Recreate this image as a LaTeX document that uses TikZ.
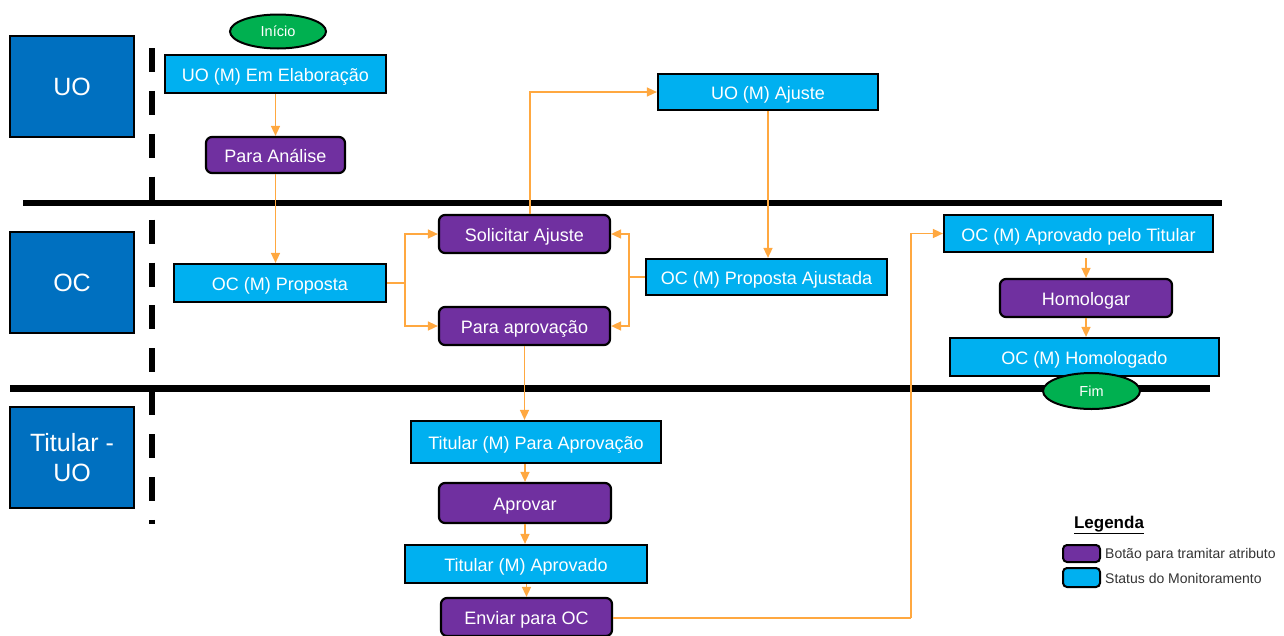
\documentclass[tikz,border=0pt]{standalone}
\usepackage{fontspec}
\setmainfont{Liberation Sans}
\usetikzlibrary{shapes.geometric,arrows.meta}
\definecolor{cyanbox}{HTML}{00B0F0}
\definecolor{purplebox}{HTML}{7030A0}
\definecolor{lanebox}{HTML}{0070C0}
\definecolor{greenov}{HTML}{00B050}
\definecolor{flow}{RGB}{255,168,64}
\definecolor{legtext}{HTML}{333333}
\begin{document}
\begin{tikzpicture}[x=1pt,y=-1pt,
  boxtext/.style={text=white, font=\fontsize{18}{21}\selectfont, inner sep=0pt,
    text height=15pt, text depth=0pt},
  status/.style={boxtext, draw=black, line width=2.2pt, fill=cyanbox},
  button/.style={boxtext, draw=black, line width=2.2pt, fill=purplebox, rounded corners=6pt},
  lane/.style={draw=black, line width=2pt, fill=lanebox, text=white,
    font=\fontsize{25}{30}\selectfont, minimum width=124pt, minimum height=101pt,
    align=center, inner sep=0pt},
  term/.style={ellipse, draw=black, line width=2pt, fill=greenov, text=white,
    font=\fontsize{14.5}{16}\selectfont, inner sep=0pt, text height=10.4pt, text depth=0pt},
  flowline/.style={draw=flow, line width=1.5pt},
  arr/.style={flowline, -{Triangle[length=10pt,width=9pt]}},
  legbox/.style={draw=black, line width=2pt, rounded corners=4pt, minimum width=37pt, inner sep=0pt},
  legtxt/.style={anchor=west, text=legtext, font=\fontsize{14}{16}\selectfont, inner sep=0pt,
    text height=10pt, text depth=0pt},
]
\useasboundingbox (0,0) rectangle (1284,635);

% lane separators
\draw[line width=6pt] (23,203) -- (1222,203);
\draw[line width=7pt] (10,388) -- (1210,388);
\draw[line width=6.5pt, dash pattern=on 24pt off 18.9pt] (152,48) -- (152,524);

% lane labels
\node[lane] (laneUO) at (72,86.5) {UO};
\node[lane] (laneOC) at (72,282.5) {OC};
\node[lane] (laneTit) at (72,457.5) {Titular -\\UO};

% terminators
\node[term, minimum width=96pt, minimum height=34pt] (inicio) at (278,31.5) {Início};

% status boxes
\node[status, minimum width=221pt, minimum height=38pt] (s1) at (275.5,74) {UO (M) Em Elaboração};
\node[status, minimum width=212pt, minimum height=38pt] (s2) at (280,283) {OC (M) Proposta};
\node[status, minimum width=220pt, minimum height=36pt] (s3) at (768,92) {UO (M) Ajuste};
\node[status, minimum width=241pt, minimum height=36pt] (s4) at (766.5,277) {OC (M) Proposta Ajustada};
\node[status, minimum width=269pt, minimum height=37pt] (s5) at (1078.5,233.5) {OC (M) Aprovado pelo Titular};
\node[status, minimum width=269pt, minimum height=38pt] (s6) at (1084.5,357) {OC (M) Homologado};
\node[status, minimum width=250pt, minimum height=42pt] (s7) at (536,442) {Titular (M) Para Aprovação};
\node[status, minimum width=242pt, minimum height=38pt] (s8) at (526,564) {Titular (M) Aprovado};

% buttons
\node[button, minimum width=139pt, minimum height=36pt] (b1) at (275.5,155) {Para Análise};
\node[button, minimum width=171pt, minimum height=38pt] (b2) at (524.5,234) {Solicitar Ajuste};
\node[button, minimum width=171pt, minimum height=38pt] (b3) at (524.5,326) {Para aprovação};
\node[button, minimum width=172pt, minimum height=38pt] (b4) at (1086,298) {Homologar};
\node[button, minimum width=172pt, minimum height=40pt] (b5) at (525,503) {Aprovar};
\node[button, minimum width=171pt, minimum height=38pt] (b6) at (526.5,617) {Enviar para OC};

\node[term, minimum width=97pt, minimum height=36pt] (fim) at (1091.5,391) {Fim};

% connectors
\coordinate (j1) at (405,283);
\coordinate (c1) at (530,0);
\coordinate (j3) at (629,277);
\coordinate (j4) at (911,618);
\coordinate (h1) at ([yshift=-5pt]s5.south);

\draw[arr] (s1.south) -- (b1.north);
\draw[arr] (b1.south) -- (b1.south |- s2.north);
\draw[flowline] (s2.east) -- (j1);
\draw[arr] (j1) |- (b2.west);
\draw[arr] (j1) |- (b3.west);
\draw[arr] (b2.north -| c1) |- (s3.west);
\draw[arr] (s3.south) -- (s3.south |- s4.north);
\draw[flowline] (s4.west) -- (j3);
\draw[arr] (j3) |- (b2.east);
\draw[arr] (j3) |- (b3.east);
\draw[arr] (b3.south) -- (b3.south |- s7.north);
\draw[arr] (b5.north |- s7.south) -- (b5.north);
\draw[arr] (b5.south) -- (b5.south |- s8.north);
\draw[arr] (b6.north |- s8.south) -- (b6.north);
\draw[flowline] (b6.east |- j4) -- (j4);
\draw[arr] (j4) |- (s5.west);
\draw[arr] (h1 -| b4.north) -- (b4.north);
\draw[arr] (b4.south) -- (b4.south |- s6.north);

% legend
\node[text=black, font=\bfseries\fontsize{17}{19}\selectfont, inner sep=0pt] (legtitle) at (1109,525) {\underline{Legenda}};
\node[legbox, fill=purplebox, minimum height=17pt] (lp) at (1081.5,553.5) {};
\node[legbox, fill=cyanbox, minimum height=19pt] (lc) at (1081.5,577.5) {};
\node[legtxt] (lpt) at (1105,553.5) {Botão para tramitar atributo};
\node[legtxt] (lct) at (1105,578) {Status do Monitoramento};
\end{tikzpicture}
\end{document}
